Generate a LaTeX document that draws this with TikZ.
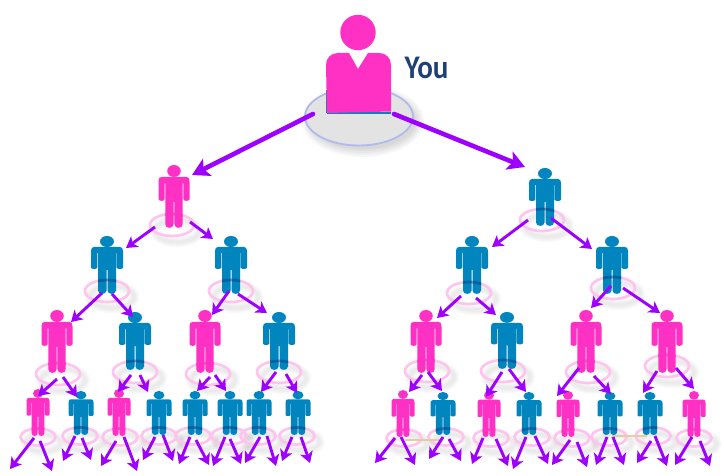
\documentclass[tikz,border=0pt]{standalone}
\usepackage{fontspec}
\setmainfont{Carlito}
\usetikzlibrary{arrows.meta}
\definecolor{figP}{HTML}{FF30C4}
\definecolor{figB}{HTML}{0085BF}
\definecolor{bandP}{HTML}{FF30C4}
\definecolor{bandB}{HTML}{00609E}
\definecolor{ringpink}{HTML}{FFC4EE}
\definecolor{linkc}{HTML}{9D00FF}
\definecolor{youc}{HTML}{1F3F77}
\definecolor{platline}{HTML}{B0BAEC}
\definecolor{tanline}{HTML}{E2CEA0}
\tikzset{
  ringline/.style={draw=ringpink,line width=2.7pt},
  ringshade/.style={draw=black,opacity=.016,fill=none},
  link/.style={draw=linkc,line width=2.9pt,-{Stealth[length=11pt,width=13pt,inset=3pt]}},
  bigl/.style={draw=linkc,line width=4.6pt,line cap=round,-{Stealth[length=17pt,width=19pt,inset=4pt]}}
}
\newcommand{\bodypath}{(-13,11) -- (13,11) .. controls (15,11) and (16,12.5) .. (16,15) -- (16,31.5) .. controls (16,33.5) and (9.7,33.5) .. (9.7,31.5) -- (9.7,17) -- (9,17) -- (9,54.5) .. controls (9,59) and (0.5,59) .. (0.5,54.5) -- (0.5,34) -- (-0.5,34) -- (-0.5,54.5) .. controls (-0.5,59) and (-9,59) .. (-9,54.5) -- (-9,17) -- (-9.7,17) -- (-9.7,31.5) .. controls (-9.7,33.5) and (-16,33.5) .. (-16,31.5) -- (-16,15) .. controls (-16,12.5) and (-15,11) .. (-13,11) -- cycle}
\newcommand{\conn}[5][link]{%
  \coordinate (#2-#3-a) at (#4);
  \coordinate (#2-#3-b) at (#5);
  \draw[#1] (#2-#3-a) -- (#2-#3-b);}
% name/cx/headtop/feet/halfwidth/colour/ringx/ringy/rx/ry
\newcommand{\people}{%
 a/174/165/228/15.5/P/172/225/22/11,
 b/545/168/226/16/B/542/220/22/11,
 c/107/236/294/16/B/107/291/22/11,
 d/231/236/294/16/B/231/291/22/11,
 e/472/236/294/16/B/469/293/22/11,
 f/612/236/294/16/B/613/288/22/11,
 g/57/310/373/15.5/P/58/374/22/11,
 h/135/312/370/16/B/135/372/22/11,
 i/205/310/373/15.5/P/208/374/22/11,
 j/279/312/370/16/B/279/372/22/11,
 k/426/310/373/15.5/P/427/371/22/11,
 l/507/312/369/16/B/503/371/22/11,
 m/586/310/373/15.5/P/588/372/22/11,
 n/667/310/373/15.5/P/667/366/22/11,
 o/38/389/436/11.5/P/38/437/17.5/8.5,
 p/81/391/435/12.5/B/80/436/17.5/8.5,
 q/119/389/436/11.5/P/120/437/17.5/8.5,
 r/159/391/435/12.5/B/159/436/17.5/8.5,
 s/195/391/435/12.5/B/193/436/17.5/8.5,
 t/230/391/435/12.5/B/229/436/17.5/8.5,
 u/259/391/435/12.5/B/258/436/17.5/8.5,
 v/298/391/435/12.5/B/297/436/17.5/8.5,
 w/403/390/437/11.5/P/404/438/17.5/8.5,
 x/443/392/435/12.5/B/446/437/17.5/8.5,
 y/489/391/437/11.5/P/491/438/17.5/8.5,
 z/529/392/435/12.5/B/532/437/17.5/8.5,
 aa/568/391/437/11.5/P/572/438/17.5/8.5,
 ab/610/392/435/12.5/B/609/437/17.5/8.5,
 ac/650/392/435/12.5/B/653/436/17.5/8.5,
 ad/694/391/437/11.5/P/694/438/17.5/8.5}
\begin{document}
\begin{tikzpicture}[x=1pt,y=-1pt]
\useasboundingbox (0,0) rectangle (724,476);
\fill[white] (0,0) rectangle (724,476);
% shadows of the rings
\foreach \n/\cx/\pt/\pb/\hw/\col/\rcx/\rcy/\ra/\rb in \people {
  \foreach \w in {11,9,7,5,3}
    \draw[ringshade,line width=\w pt] (\rcx+5,\rcy+6) ellipse [x radius=\ra,y radius=\rb];
}
% big platform
\foreach \g in {8,6,4,2,0}
  \fill[black,opacity=.03] (363,121) ellipse [x radius=53+\g,y radius=28+\g];
\coordinate (plat) at (359,116.5);
\draw[fill=black!11,draw=platline,line width=1.8pt] (plat) ellipse [x radius=54,y radius=29];
% rings and figures
\foreach \n/\cx/\pt/\pb/\hw/\col/\rcx/\rcy/\ra/\rb in \people {
  \draw[ringline] (\rcx,\rcy) ellipse [x radius=\ra,y radius=\rb];
  \coordinate (\n) at (\cx,\pt);
  \pgfmathsetmacro\sx{\hw/16}
  \pgfmathsetmacro\sy{(\pb-\pt)/58}
  \pgfmathsetmacro\lx{(\rcx-\cx)/\sx}
  \pgfmathsetmacro\ly{(\rcy-\pt)/\sy}
  \pgfmathsetmacro\lra{\ra/\sx}
  \pgfmathsetmacro\lrb{\rb/\sy}
  \begin{scope}[shift={(\cx,\pt)},xscale=\sx,yscale=\sy]
    \fill[fig\col] (0,5.5) ellipse [x radius=7,y radius=5.5];
    \fill[fig\col] \bodypath;
    \begin{scope}
      \clip \bodypath;
      \draw[band\col,line width=2.7pt] (\lx,\ly) ellipse [x radius=\lra,y radius=\lrb];
    \end{scope}
  \end{scope}
}
% tan streaks
\draw[tanline,line width=1.2pt] (405,440) -- (440,440);
\draw[tanline,line width=1.2pt] (612,436) -- (647,436);
% the large figure
\fill[figB] (326,90) rectangle (327.5,113);
\fill[figB] (326.5,112) rectangle (391,114);
\fill[figP] (358,32.5) circle [radius=17.7];
\fill[figP] (338,53) -- (349,53) -- (358,69) -- (368,53) -- (379,53) .. controls (386,53) and (391,58) .. (391,65) -- (391,111.5) -- (327,113) -- (326,65) .. controls (326,58) and (331,53) .. (338,53) -- cycle;
\node[anchor=center,text=youc,font=\bfseries\fontsize{33}{33}\selectfont,xscale=.88,inner sep=0pt] (you) at (426.5,68) {You};
% connectors
\conn[bigl]{plat}{a}{313,114}{192,175}
\conn[bigl]{plat}{b}{394,114}{525,167}
\conn{a}{c}{155,227}{126,248}
\conn{a}{d}{190,222}{213,239}
\conn{b}{e}{528,220}{492,247}
\conn{b}{f}{551,218}{592,249}
\conn{c}{g}{102,293}{71,322}
\conn{c}{h}{112,294}{133,317}
\conn{d}{i}{229,291}{212,315}
\conn{d}{j}{238,294}{267,313}
\conn{e}{k}{461,296}{437,318}
\conn{e}{l}{476,298}{496,315}
\conn{f}{m}{611,286}{591,308}
\conn{f}{n}{623,288}{660,313}
\conn{g}{o}{57,379}{38,396}
\conn{g}{p}{63,377}{77,397}
\conn{h}{q}{131,375}{118,392}
\conn{h}{r}{140,375}{148,392}
\conn{i}{s}{210,377}{197,391}
\conn{i}{t}{215,375}{226,391}
\conn{j}{u}{276,372}{261,392}
\conn{j}{v}{286,374}{297,393}
\conn{k}{w}{422,375}{409,392}
\conn{k}{x}{428,372}{442,391}
\conn{l}{y}{502,372}{486,397}
\conn{l}{z}{509,369}{526,392}
\conn{m}{aa}{579,368}{557,396}
\conn{m}{ab}{594,376}{611,394}
\conn{n}{ac}{657,371}{643,393}
\conn{n}{ad}{676,368}{694,389}
\conn{o}{1}{34,438}{10,469}
\conn{o}{2}{40,441}{52,471}
\conn{p}{1}{75,436}{63,461}
\conn{p}{2}{82,438}{91,460}
\conn{q}{1}{116,441}{101,466}
\conn{q}{2}{124,437}{137,471}
\conn{r}{1}{155,437}{143,460}
\conn{r}{2}{163,435}{173,461}
\conn{s}{1}{190,437}{179,464}
\conn{s}{2}{196,440}{209,465}
\conn{t}{1}{225,437}{213,466}
\conn{t}{2}{230,439}{241,464}
\conn{u}{1}{260,437}{245,463}
\conn{u}{2}{267,436}{276,466}
\conn{v}{1}{292,437}{282,461}
\conn{v}{2}{301,437}{310,463}
\conn{w}{1}{395,438}{375,463}
\conn{w}{2}{401,437}{415,465}
\conn{x}{1}{443,437}{429,459}
\conn{x}{2}{449,439}{461,461}
\conn{y}{1}{483,438}{472,464}
\conn{y}{2}{496,439}{508,466}
\conn{z}{1}{526,437}{513,469}
\conn{z}{2}{535,436}{548,464}
\conn{aa}{1}{570,440}{552,465}
\conn{aa}{2}{577,442}{587,467}
\conn{ab}{1}{607,437}{596,465}
\conn{ab}{2}{613,437}{624,465}
\conn{ac}{1}{651,441}{637,463}
\conn{ac}{2}{655,436}{667,466}
\conn{ad}{1}{692,437}{675,465}
\conn{ad}{2}{700,441}{710,466}
\end{tikzpicture}
\end{document}
